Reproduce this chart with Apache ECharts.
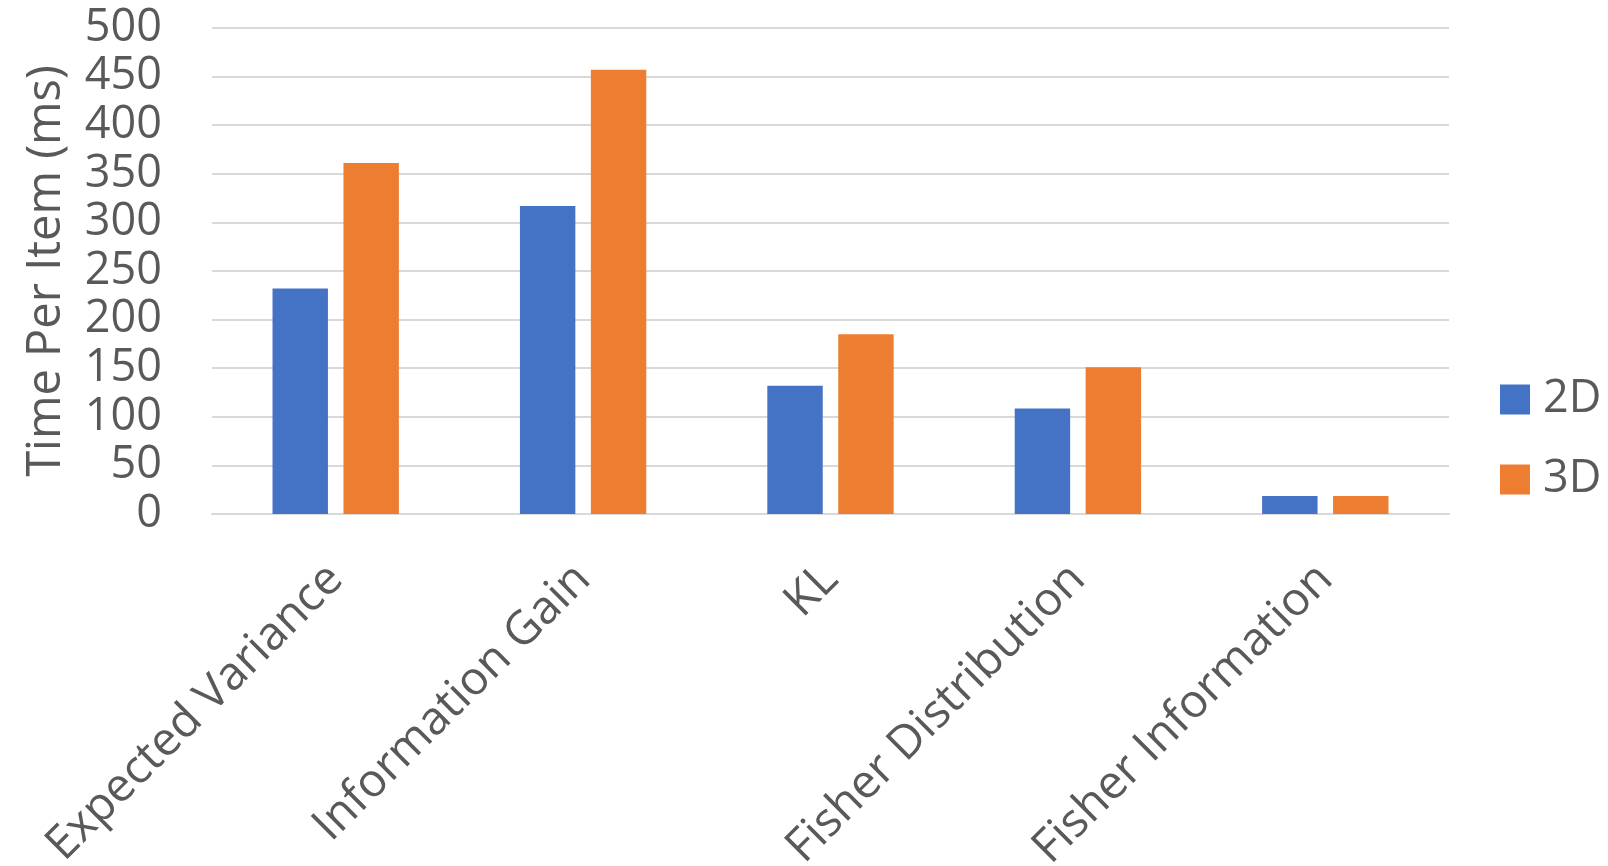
<!DOCTYPE html>
<html>
<head>
<meta charset="utf-8">
<script src="https://cdn.jsdelivr.net/npm/echarts@6/dist/echarts.min.js"></script>
<style>
html,body{margin:0;padding:0;background:#fff;}
#chart{width:1608px;height:866px;}
</style>
</head>
<body>
<div id="chart"></div>
<script>
const categories = ['Expected Variance', 'Information Gain', 'KL', 'Fisher Distribution', 'Fisher Information'];
const series2D = [232, 317, 132, 108.5, 18.5];
const series3D = [361, 457, 185, 151, 18.5];
const yTicks = { min: 0, max: 500, interval: 50 };

const textColor = '#595959';
const font = 'Open Sans';
const chart = echarts.init(document.getElementById('chart'));
chart.setOption({
  animation: false,
  backgroundColor: '#ffffff',
  grid: { left: 212, right: 159, top: 28, bottom: 352, containLabel: false, outerBoundsMode: 'none' },
  legend: {
    orient: 'vertical',
    left: 1495,
    top: 372,
    itemWidth: 30,
    itemHeight: 30,
    itemGap: 35,
    icon: 'rect',
    textStyle: { color: textColor, fontSize: 45, fontFamily: font, padding: [0, 0, 0, 8] },
    data: ['2D', '3D']
  },
  xAxis: {
    type: 'category',
    data: categories,
    axisLine: { show: true, lineStyle: { color: '#d9d9d9', width: 2 } },
    axisTick: { show: false },
    axisLabel: { interval: 0, rotate: 45, margin: 58, color: textColor, fontSize: 46.5, fontFamily: font }
  },
  yAxis: {
    type: 'value',
    min: yTicks.min, max: yTicks.max, interval: yTicks.interval,
    name: 'Time Per Item (ms)',
    nameLocation: 'middle',
    nameGap: 142,
    nameTextStyle: { color: textColor, fontSize: 47, fontFamily: font },
    axisLine: { show: false },
    axisTick: { show: false },
    axisLabel: { margin: 50, color: textColor, fontSize: 45, fontFamily: font },
    splitLine: { lineStyle: { color: '#d9d9d9', width: 2 } }
  },
  series: [
    { name: '2D', type: 'bar', data: series2D, barWidth: '22.4%', barGap: '28%', itemStyle: { color: '#4472C4' } },
    { name: '3D', type: 'bar', data: series3D, barWidth: '22.4%', itemStyle: { color: '#ED7D31' } }
  ]
});
</script>
</body>
</html>
